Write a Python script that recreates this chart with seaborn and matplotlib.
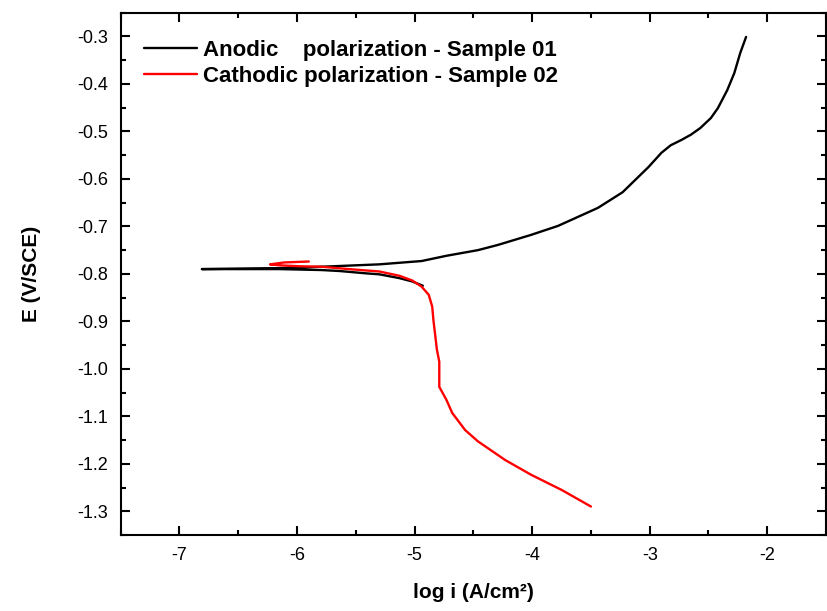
import pandas as pd
import matplotlib
matplotlib.use('Agg')
import matplotlib.pyplot as plt
from matplotlib.ticker import MultipleLocator
import seaborn as sns

# Curva anódica (muestra 01): log i y potencial E
anodic_log_i = [-4.93, -5.02, -5.13, -5.30, -5.41, -5.64, -5.79, -6.15, -6.49, -6.81,
                -6.49, -6.15, -5.79, -5.30, -4.94, -4.73, -4.46, -4.29, -4.01, -3.78, -3.44,
                -3.23, -3.01, -2.90, -2.82, -2.73, -2.65, -2.57, -2.48, -2.42, -2.34, -2.28,
                -2.23, -2.18]
anodic_E = [-0.825, -0.816, -0.809, -0.801, -0.799, -0.794, -0.792, -0.790, -0.790, -0.790,
            -0.789, -0.788, -0.785, -0.780, -0.773, -0.762, -0.750, -0.739, -0.718, -0.699, -0.661,
            -0.628, -0.575, -0.545, -0.529, -0.518, -0.507, -0.493, -0.472, -0.451, -0.413, -0.377,
            -0.335, -0.301]

# Curva catódica (muestra 02)
cathodic_log_i = [-3.50, -3.75, -4.01, -4.23, -4.46, -4.57, -4.68, -4.73, -4.79, -4.79, -4.79,
                  -4.81, -4.82, -4.84, -4.85, -4.88, -4.94, -5.02, -5.13, -5.30, -5.56, -5.79,
                  -5.98, -6.15, -6.23, -6.11, -5.90]
cathodic_E = [-1.290, -1.255, -1.223, -1.192, -1.153, -1.129, -1.093, -1.065, -1.038, -1.013, -0.985,
              -0.960, -0.939, -0.897, -0.869, -0.844, -0.827, -0.814, -0.804, -0.795, -0.790, -0.785,
              -0.784, -0.782, -0.780, -0.776, -0.774]

labels = ['Anodic    polarization - Sample 01', 'Cathodic polarization - Sample 02']

df = pd.concat([
    pd.DataFrame({'log_i': anodic_log_i, 'E': anodic_E, 'curva': labels[0]}),
    pd.DataFrame({'log_i': cathodic_log_i, 'E': cathodic_E, 'curva': labels[1]}),
], ignore_index=True)

sns.set_style('ticks')
plt.rcParams['font.family'] = ['Liberation Sans', 'DejaVu Sans']
plt.rcParams['text.color'] = 'black'
plt.rcParams['axes.labelcolor'] = 'black'
plt.rcParams['xtick.color'] = 'black'
plt.rcParams['ytick.color'] = 'black'
plt.rcParams['axes.edgecolor'] = 'black'

fig = plt.figure(figsize=(8.28, 6.11), dpi=100)
ax = fig.add_axes([0.1458, 0.1244, 0.8518, 0.8548])

sns.lineplot(data=df, x='log_i', y='E', hue='curva', palette=['black', 'red'],
             sort=False, estimator=None, linewidth=1.7, ax=ax)

ax.set_xlim(-7.5, -1.5)
ax.set_ylim(-1.35, -0.25)
ax.xaxis.set_major_locator(MultipleLocator(1))
ax.xaxis.set_minor_locator(MultipleLocator(0.5))
ax.yaxis.set_major_locator(MultipleLocator(0.1))
ax.yaxis.set_minor_locator(MultipleLocator(0.05))
ax.yaxis.set_major_formatter(plt.FormatStrFormatter('%.1f'))
ax.xaxis.set_major_formatter(plt.FormatStrFormatter('%d'))

ax.tick_params(which='both', direction='in', top=True, right=True, width=1.5)
ax.tick_params(which='major', length=6.5, labelsize=13, pad=9)
ax.tick_params(which='minor', length=3.5)
for s in ax.spines.values():
    s.set_linewidth(1.5)

ax.set_xlabel('log i (A/cm²)', fontsize=15, fontweight='bold', labelpad=13)
ax.set_ylabel('E (V/SCE)', fontsize=15, fontweight='bold', labelpad=26)

ax.legend(loc='upper left', bbox_to_anchor=(0.02, 0.965), frameon=False, title=None,
          prop={'weight': 'bold', 'size': 16}, handlelength=2.4, handletextpad=0.25,
          borderaxespad=0, labelspacing=0.22)

fig.savefig('out.png', dpi=100)
